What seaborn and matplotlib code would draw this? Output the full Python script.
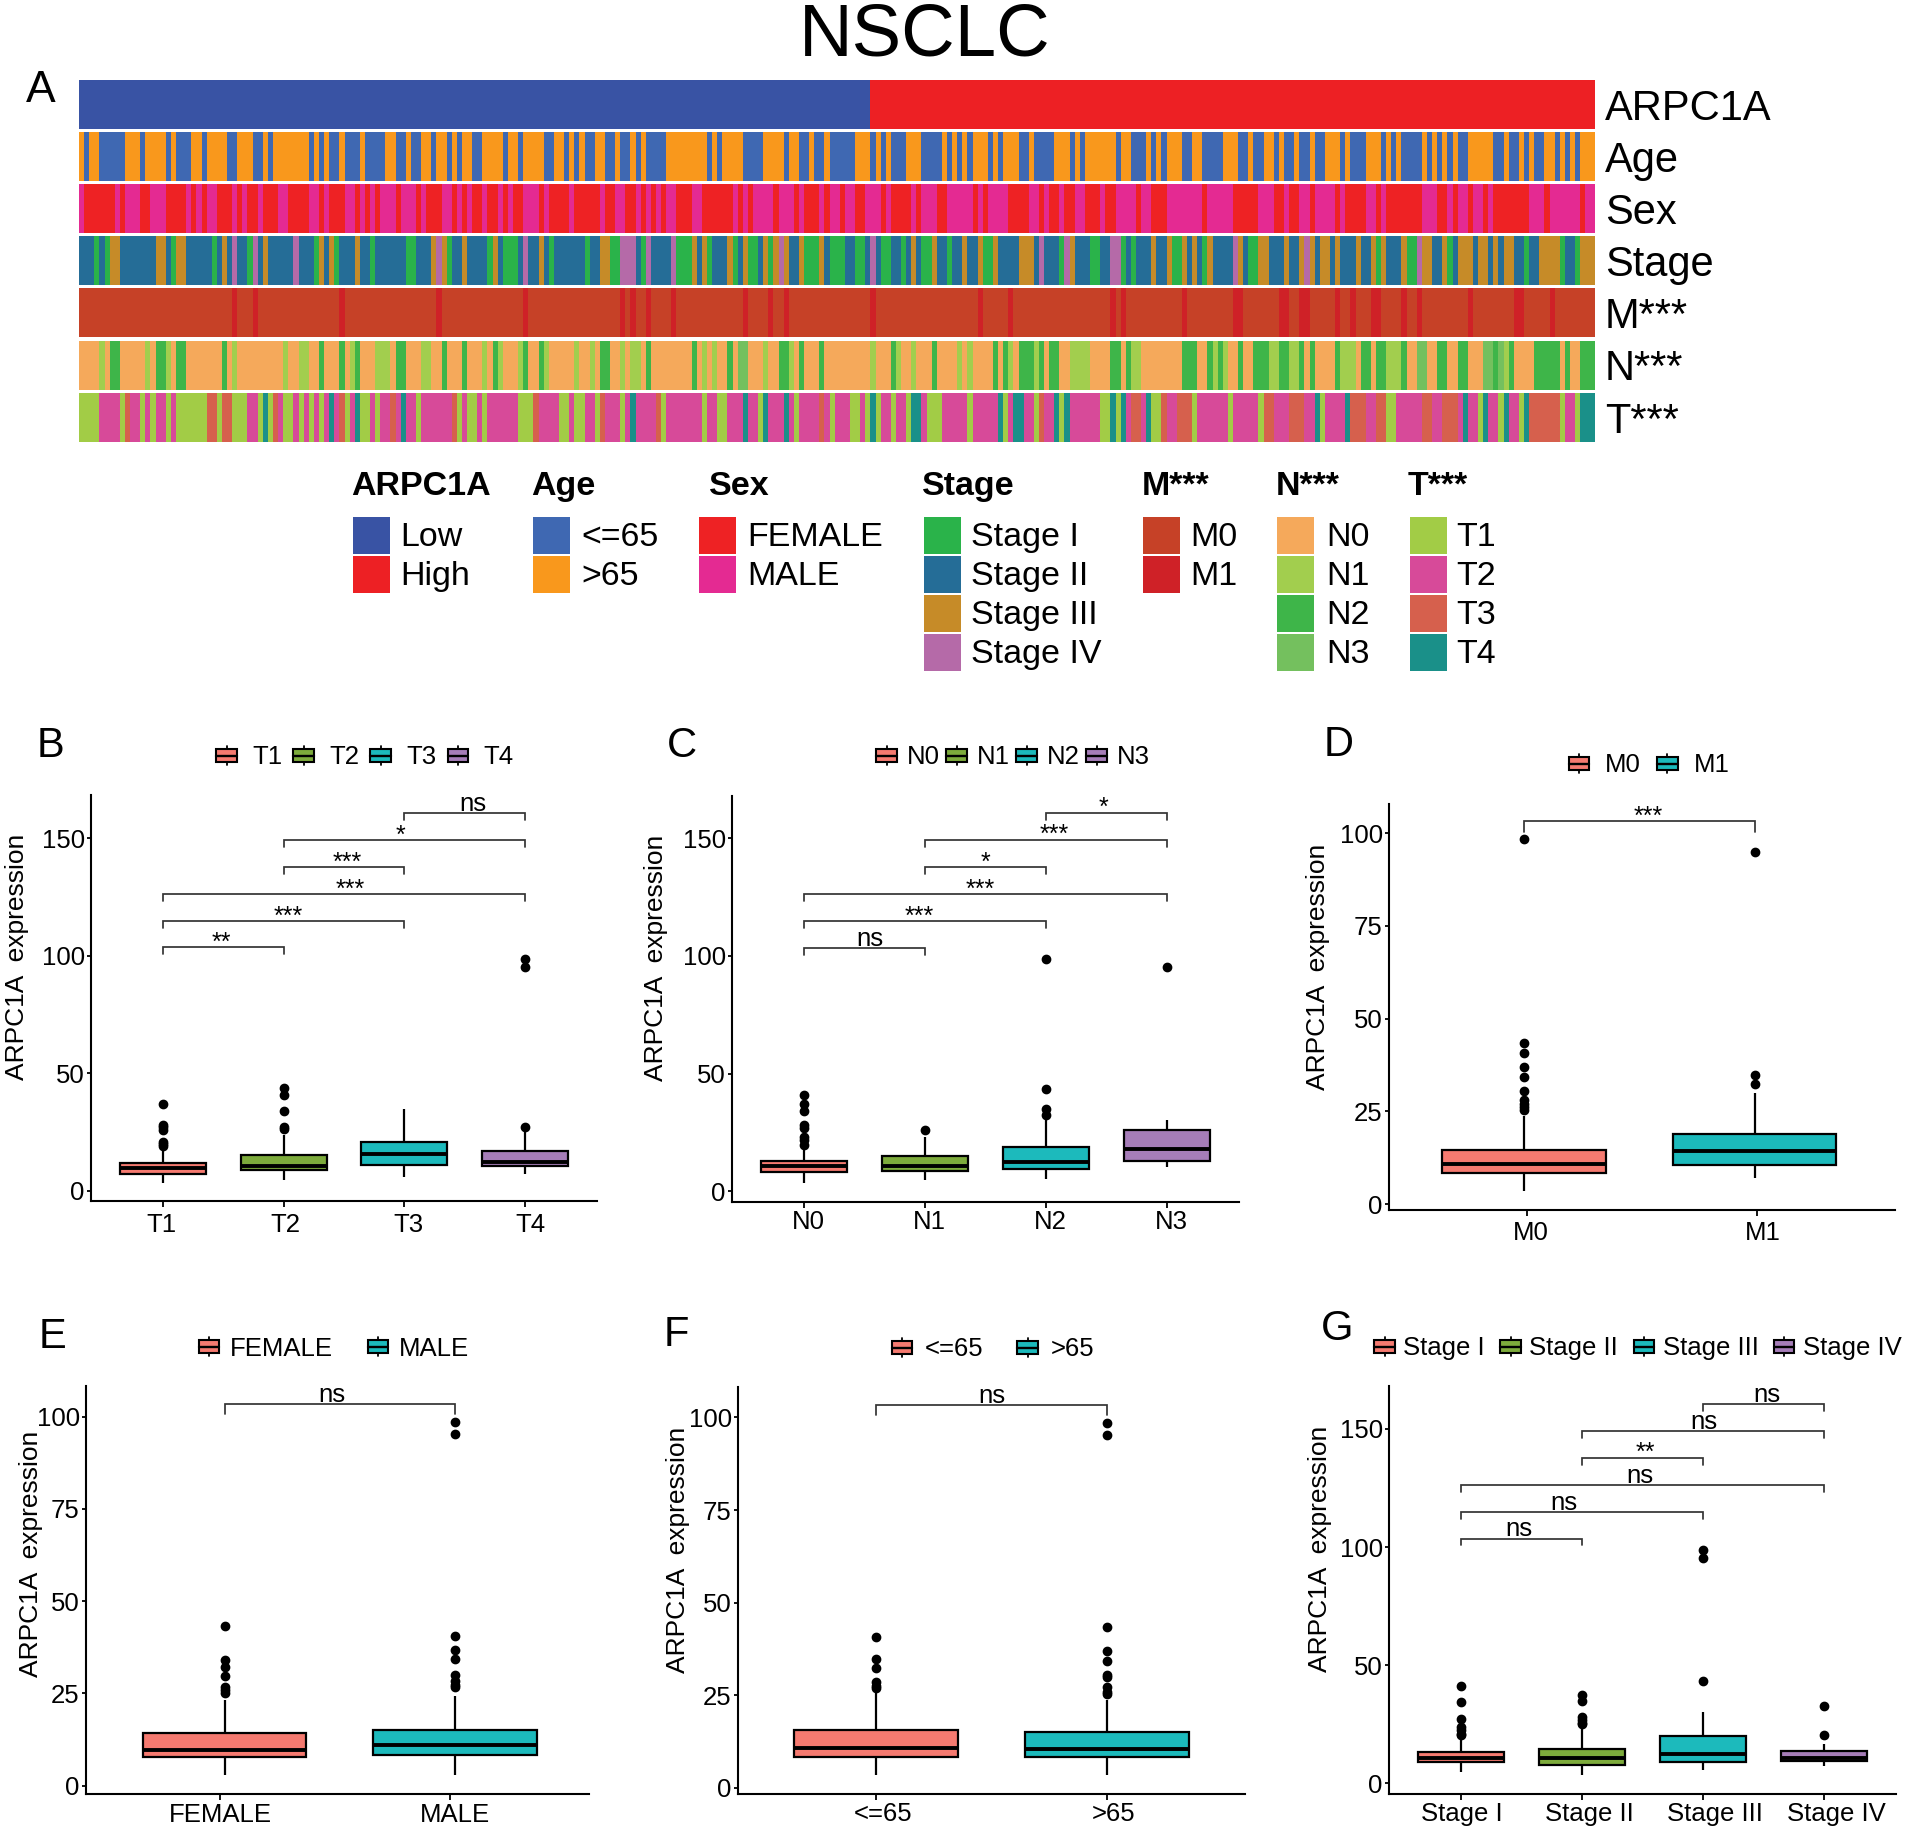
import numpy as np
import pandas as pd
import matplotlib
matplotlib.use('Agg')
import matplotlib.pyplot as plt
import seaborn as sns
from matplotlib.colors import ListedColormap
from matplotlib.legend_handler import HandlerBase
from matplotlib.lines import Line2D
from matplotlib.patches import Rectangle
from matplotlib.transforms import ScaledTranslation

W, H = 1905, 1827
N_SAMPLES = 297

# ---- annotation tracks: sample runs ----
n_low = 155
age_runs = [1,1,2,5,3,1,4,1,1,3,2,1,4,2,3,2,1,1,7,1,1,1,1,2,1,3,1,4,2,2,1,2,2,1,2,1,1,1,2,2,4,1,2,1,4,2,2,1,1,1,1,2,2,2,1,2,1,1,1,4,8,1,1,1,4,4,4,1,2,2,1,2,1,5,
            3,1,1,1,1,3,3,4,1,1,1,1,1,1,3,1,1,1,3,2,1,4,3,1,1,1,6,1,2,3,1,1,1,1,3,2,2,4,3,2,1,2,2,1,1,2,1,2,1,2,3,1,1,3,3,1,1,1,1,4,1,1,1,1,1,1,1,2,5,2,1,2,1,1,1,2,2,1,1,1,1,1,3]
sex_runs = [1,6,1,1,3,2,3,4,1,1,1,1,2,3,1,1,1,2,1,3,2,4,2,1,1,3,2,1,1,1,1,1,3,1,3,1,1,3,2,1,1,1,1,2,1,2,1,1,1,2,3,1,1,4,1,5,1,2,2,2,1,1,1,1,1,1,2,3,2,6,1,1,1,1,4,1,3,1,1,3,1,1,2,1,2,
            2,3,1,1,4,1,1,3,2,5,1,1,1,4,4,2,1,1,2,1,2,2,3,1,2,4,1,2,3,7,1,5,5,3,2,1,2,2,1,4,1,1,4,2,1,1,7,3,2,1,1,2,1,2,1,1,7,3,1,6,1,2]
stage_runs = ("B3 A1 B1 A1 C2 B7 C2 B1 A1 C2 B5 A1 B1 C1 B1 D1 B2 A1 D1 B1 C1 B5 D1 B3 A1 C1 B1 C1 A1 B3 C1 B2 A1 B6 A2 B3 C1 D1 C1 A1 B2 C1 B4 A1 C1 B1 A3 B1 D1 B2 C1 B1 A1 B6 A1 B2 C2 A2 D3 B1 A1 D1 B4 D1 A3 C1 B1 C1 A1 B3 C1 A1 B1 C1 A2 B1 C1 A1 C1 D1 C1 B2 C1 A3 C1 B1 A3 B2 A1 "
              "A1 B1 D1 B1 A2 B2 A1 B1 C1 B1 A2 C1 B2 A1 B2 C1 B2 C1 A2 C1 B4 C3 B1 D1 B3 A1 D1 C1 B3 A2 B2 D2 A1 B1 A1 B3 C1 B2 C1 A2 C1 B1 C1 B1 A1 C1 B4 D1 C1 B1 A2 C2 B3 C1 B2 C1 D1 C1 B1 C2 B1 C1 B3 C1 B2 C1 A1 C1 B3 C1 A2 D1 C2 B2 C1 A1 B1 C3 B1 C2 B1 C1 B1 C2 B2 A1 B2 C4 A1 B2 A1 C3")
m1_samples = [30, 34, 51, 70, 87, 106, 108, 111, 116, 130, 135, 138, 155, 176, 182, 202, 204, 216, 226, 227, 235, 236, 239, 240, 246, 249, 253, 254, 259, 262, 272, 281, 282, 288]
n_runs = ("A4 B1 A1 C2 A5 B1 A1 C2 B1 A1 C2 A7 C1 A1 B1 A9 B1 A2 B2 A2 C1 A3 C1 A1 B1 C1 A3 B3 A1 C2 A3 B2 A2 C1 A3 C1 A3 B1 A1 C1 B1 A3 B1 C1 A2 C1 B1 A5 B1 A2 B1 A1 C2 A2 B1 A1 B2 A1 C1 A8 C1 A1 B1 A1 B1 A2 C1 A1 D2 A3 B1 A2 C2 B1 A1 C1 A3 C1 A7 "
          "A2 B1 A3 C1 B1 A2 B1 A3 C1 A4 B1 A1 B1 A4 C1 A1 C1 B1 A1 C3 B1 C1 A1 C2 A2 B4 A4 C2 A1 C1 B2 A8 C3 A2 C1 B1 C1 B1 A2 C1 A2 C3 B2 C2 B2 C1 A1 C1 A4 C1 B3 A1 C2 A1 C2 B3 C1 A2 D2 A2 C2 A2 C2 A3 D2 C1 D1 B1 C1 A3 A1 C1 C4 A1 C1 A2 C3")
t_runs = ("A4 B4 A1 C1 B2 A1 B1 A1 B2 A1 B1 A6 C2 A1 C2 A3 B2 A1 D1 A1 C1 B1 A2 B1 A1 B1 A1 B1 A1 B1 D1 B1 C1 A1 B1 D1 A2 B1 A1 B2 C1 B1 D1 B2 A1 B6 C1 A1 B1 A2 B1 A1 B6 A3 C1 B4 A2 B1 A2 B2 A1 C1 B3 A1 B1 D1 B4 C1 A1 B7 A1 B2 A2 B3 D1 B2 A1 D1 B3 D1 B1 A1 B4 C1 B1 A1 B3 A2 "
          "B1 A1 D1 A1 B2 A1 B2 A1 D2 B1 A3 B5 A1 B5 D1 A1 B1 D2 B2 A1 C1 B2 D1 A1 D1 B3 B3 A2 D1 A1 D1 B1 C2 B1 D1 A2 C1 B2 C3 A1 B6 A1 B5 A1 C2 B3 C3 B2 D1 A1 B4 D1 C3 B2 C2 A2 B5 C2 B2 C3 B1 D1 B2 A1 D1 B2 A1 D1 B2 A1 D1 C6 A1 B2 A1 D2")

arpc1a_labels = ['Low', 'High']
age_labels = ['<=65', '>65']
sex_labels = ['FEMALE', 'MALE']
stage_labels = ['Stage I', 'Stage II', 'Stage III', 'Stage IV']
m_labels = ['M0', 'M1']
n_labels = ['N0', 'N1', 'N2', 'N3']
t_labels = ['T1', 'T2', 'T3', 'T4']

arpc1a_colors = ['#3953A4', '#ED2024']
age_colors = ['#3F68B2', '#F9981C']
sex_colors = ['#EE2224', '#E42A92']
stage_colors = ['#2AB34A', '#256D97', '#C68B28', '#B56AA8']
m_colors = ['#C64127', '#CF2127']
n_colors = ['#F5A95B', '#A2CE4E', '#3EB549', '#74C05E']
t_colors = ['#A2CC46', '#D74A99', '#D6604D', '#1A9089']

# ---- box plot readings ----
t_low = [3.3, 4.7, 5.8, 7.2]
t_q1 = [7.2, 8.9, 11.1, 10.5]
t_med = [9.6, 10.8, 15.8, 12.5]
t_q3 = [11.8, 15.1, 21.0, 16.8]
t_high = [17.0, 23.7, 34.7, 25.6]
t_out = [[37, 28, 27, 26, 21, 20, 19], [43.6, 41, 34.2, 27, 26.3], [], [27.3, 95.3, 98.7]]
t_sig = [(0, 1, 103.5, '**', 0.485), (0, 2, 114.8, '***', 1.04), (0, 3, 126.2, '***', 1.55),
         (1, 2, 137.7, '***', 1.53), (1, 3, 149.2, '*', 1.97), (2, 3, 160.7, 'ns', 2.57)]

n_low_w = [3.3, 4.6, 5.3, 10.2]
n_q1 = [8.1, 8.5, 9.5, 12.8]
n_med = [10.5, 10.6, 12.5, 18.0]
n_q3 = [12.7, 14.8, 18.6, 26.2]
n_high = [19.4, 23.0, 31.0, 30.2]
n_out = [[41, 37.1, 34.2, 28, 27, 23, 21.6, 19.7], [26], [43.5, 35, 32.4, 98.7], [95.2]]
n_sig = [(0, 1, 103.3, 'ns', 0.54), (0, 2, 114.7, '***', 0.95), (0, 3, 126.2, '***', 1.46),
         (1, 2, 137.8, '*', 1.50), (1, 3, 149.4, '***', 2.07), (2, 3, 160.9, '*', 2.48)]

m_low_w = [3.6, 7.0]
m_q1 = [8.4, 10.6]
m_med = [10.7, 14.4]
m_q3 = [14.6, 18.9]
m_high = [23.7, 30.0]
m_out = [[98.4, 43.4, 40.8, 36.9, 34.3, 30.4, 28, 27, 26.2, 25.3], [34.7, 32.5, 95]]
m_sig = [(0, 1, 103.2, '***', 0.54)]

sex_low_w = [2.9, 2.9]
sex_q1 = [7.75, 8.3]
sex_med = [9.75, 11.1]
sex_q3 = [14.3, 15.1]
sex_high = [23.2, 24.4]
sex_out = [[43.2, 34.1, 32.2, 29.6, 26.7, 26, 25], [98.6, 95.2, 40.6, 36.7, 34.4, 30.1, 28.3, 27.3, 26.7]]
sex_sig = [(0, 1, 103.5, 'ns', 0.467)]

age_low_w = [3.4, 3.4]
age_q1 = [8.4, 8.3]
age_med = [10.9, 10.5]
age_q3 = [15.7, 15.1]
age_high = [25.8, 23.8]
age_out = [[40.8, 34.8, 32.5, 28.5, 27.6, 26.9], [98.6, 95.2, 43.5, 37, 34.3, 30.6, 30, 27.2, 26, 25.4]]
age_sig = [(0, 1, 103.4, 'ns', 0.50)]

stage_low_w = [4.7, 3.6, 5.4, 7.1]
stage_q1 = [8.8, 7.8, 8.8, 9.4]
stage_med = [10.5, 10.8, 12.5, 10.8]
stage_q3 = [13.4, 14.7, 19.8, 13.7]
stage_high = [19.7, 24.0, 30.3, 16.4]
stage_out = [[41, 34.5, 27, 23.6, 22.5, 21, 20.5], [37.2, 34.9, 28.2, 26.8, 25.6, 25.2], [43.4, 95.3, 98.7], [32.6, 20.3]]
stage_sig = [(0, 1, 103.6, 'ns', 0.48), (0, 2, 114.8, 'ns', 0.85), (0, 3, 126.4, 'ns', 1.476),
             (1, 2, 137.8, '**', 1.52), (1, 3, 149.1, 'ns', 2.01), (2, 3, 160.5, 'ns', 2.53)]

box_four = ['#F57A70', '#7DAB3C', '#1CBABC', '#A67DB8']
box_two = ['#F57A70', '#1CBABC']

sns.set_style('ticks')
plt.rcParams['font.family'] = ['Liberation Sans', 'DejaVu Sans']
plt.rcParams['text.color'] = 'black'
plt.rcParams['axes.labelcolor'] = 'black'
plt.rcParams['xtick.color'] = 'black'
plt.rcParams['ytick.color'] = 'black'
plt.rcParams['axes.edgecolor'] = 'black'


def alternate(runs, first):
    # binary track: runs switch category each time
    codes = np.repeat([(first + i) % 2 for i in range(len(runs))], runs)
    return fit(codes)


def decode(text):
    codes = [ord(tok[0]) - 65 for tok in text.split()]
    runs = [int(tok[1:]) for tok in text.split()]
    return fit(np.repeat(codes, runs))


def fit(codes):
    if len(codes) < N_SAMPLES:
        codes = np.append(codes, [codes[-1]] * (N_SAMPLES - len(codes)))
    return codes[:N_SAMPLES]


def px_axes(fig, left, top, right, bottom):
    return fig.add_axes([left / W, 1 - bottom / H, (right - left) / W, (bottom - top) / H])


def sample_values(low, q1, med, q3, high, out):
    # a group of readings whose quartiles land on the values
    return [low] + [q1] * 40 + [med] * 40 + [q3] * 40 + [high] + list(out)


class BoxKey(HandlerBase):
    # ggplot style legend key: small box, median line, whisker stubs
    def create_artists(self, legend, orig, xd, yd, w, h, fontsize, trans):
        cx, cy = -xd + w / 2, -yd + h / 2
        box_h = h * 0.66
        box = Rectangle((-xd, cy - box_h / 2), w, box_h, facecolor=orig.get_facecolor(),
                        edgecolor='black', linewidth=1.5, transform=trans)
        med = Line2D([-xd, -xd + w], [cy, cy], color='black', linewidth=1.7, transform=trans)
        up = Line2D([cx, cx], [cy + box_h / 2, -yd + h], color='black', linewidth=1.3, transform=trans)
        down = Line2D([cx, cx], [-yd, cy - box_h / 2], color='black', linewidth=1.3, transform=trans)
        return [up, down, box, med]


def draw_panel(fig, geom, groups, low, q1, med, q3, high, out, sig, palette, yticks):
    ax = px_axes(fig, *geom['box'])
    rows = []
    for i, g in enumerate(groups):
        for v in sample_values(low[i], q1[i], med[i], q3[i], high[i], out[i]):
            rows.append((g, v))
    df = pd.DataFrame(rows, columns=['group', 'value'])
    sns.boxplot(data=df, x='group', y='value', hue='group', order=groups, hue_order=groups,
                palette=palette, saturation=1, width=0.71, linewidth=1.6, linecolor='black',
                fliersize=6, showcaps=False, legend=True, ax=ax,
                medianprops={'linewidth': 2.8},
                flierprops={'marker': 'o', 'markerfacecolor': 'black', 'markeredgecolor': 'black'})
    handles, labels = ax.get_legend_handles_labels()
    ax.get_legend().remove()
    ax.legend(handles, labels, handler_map={type(handles[0]): BoxKey()}, frameon=False,
              loc='center', bbox_to_anchor=(geom['legend'][0] / W, 1 - geom['legend'][1] / H),
              bbox_transform=fig.transFigure, ncol=len(groups), fontsize=18.5, borderpad=0,
              borderaxespad=0, handlelength=0.8, handleheight=0.8,
              handletextpad=geom['legend'][2], columnspacing=geom['legend'][3])

    for a, b, y, mark, xt in sig:
        tip = y - 2.9 * (geom['ylim'][1] / 168 if geom['ylim'][1] > 120 else 0.95)
        ax.plot([a, a, b, b], [tip, y, y, tip], color='#333333', lw=1.25, solid_joinstyle='miter')
        if mark == 'ns':
            ax.annotate(mark, (xt, y), xytext=(0, 1.5), textcoords='offset points',
                        ha='center', va='baseline', fontsize=18.5)
        else:
            ax.annotate(mark, (xt, y), xytext=(0, -1.8), textcoords='offset points',
                        ha='center', va='baseline', fontsize=18)

    ax.set_xlim(*geom['xlim'])
    ax.set_ylim(*geom['ylim'])
    ax.set_yticks(yticks)
    ax.set_xticks(np.arange(len(groups)) + geom.get('tick_shift', 0))
    ax.set_xticklabels(groups)
    ax.set_xlabel('')
    ax.set_ylabel('')
    ax.tick_params(axis='x', labelsize=18.5, length=4.5, width=1.3, pad=geom.get('xpad', 4.5))
    ax.tick_params(axis='y', labelsize=18.5, length=3, width=1.3, pad=1.5)
    for lbl, dx in zip(ax.get_xticklabels(), geom['label_shift']):
        lbl.set_transform(lbl.get_transform() + ScaledTranslation(dx / 100, 0, fig.dpi_scale_trans))
    sns.despine(ax=ax)
    for side in ['left', 'bottom']:
        ax.spines[side].set_linewidth(1.5)
    fig.text(geom['ylabel'][0] / W, 1 - geom['ylabel'][1] / H, 'ARPC1A  expression', rotation=90,
             ha='center', va='center', fontsize=19)
    fig.text(geom['tag'][0] / W, 1 - geom['tag'][1] / H, geom['name'], ha='center', va='center', fontsize=30)
    return ax


fig = plt.figure(figsize=(W / 100, H / 100), dpi=100, facecolor='white')

# ---- panel A ----
m_codes = np.zeros(N_SAMPLES, dtype=int)
m_codes[m1_samples] = 1
tracks = [
    ('ARPC1A', np.repeat([0, 1], [n_low, N_SAMPLES - n_low]), arpc1a_labels, arpc1a_colors),
    ('Age', alternate(age_runs, 1), age_labels, age_colors),
    ('Sex', alternate(sex_runs, 1), sex_labels, sex_colors),
    ('Stage', decode(stage_runs), stage_labels, stage_colors),
    ('M***', m_codes, m_labels, m_colors),
    ('N***', decode(n_runs), n_labels, n_colors),
    ('T***', decode(t_runs), t_labels, t_colors),
]
track_left, track_right = 79, 1595.5
track_top, track_h, track_pitch = 80, 49, 52.1
legend_key_x = [353, 533, 699, 924, 1143, 1277, 1410]
legend_text_x = [400, 581, 747, 971, 1190, 1326, 1456]
legend_title_x = [351, 531, 708.5, 921.5, 1141.5, 1276, 1408]

for i, (name, codes, labels, colors) in enumerate(tracks):
    top = track_top + i * track_pitch
    ax = px_axes(fig, track_left, top, track_right, top + track_h)
    sns.heatmap(codes[np.newaxis, :], ax=ax, cmap=ListedColormap(colors), vmin=-0.5,
                vmax=len(colors) - 0.5, cbar=False, xticklabels=False, yticklabels=False)
    fig.text(1605 / W, 1 - (top + track_h / 2 + 4.5) / H, name, fontsize=30, ha='left', va='center')
    fig.text(legend_title_x[i] / W, 1 - 486.5 / H, name, fontsize=24.5, fontweight='bold', ha='left', va='center')
    for j, (lab, col) in enumerate(zip(labels, colors)):
        y = 517 + j * 39
        fig.add_artist(Rectangle((legend_key_x[i] / W, 1 - (y + 36.5) / H), 36.7 / W, 36.5 / H,
                                 facecolor=col, edgecolor='none', transform=fig.transFigure))
        fig.text(legend_text_x[i] / W, 1 - (y + 20.5) / H, lab, fontsize=24.5, ha='left', va='center')

fig.text(925 / W, 1 - 36 / H, 'NSCLC', fontsize=53.5, ha='center', va='center')
fig.text(41 / W, 1 - 91 / H, 'A', fontsize=32, ha='center', va='center')

# ---- panels B-G ----
draw_panel(fig, dict(name='B', box=(91, 795, 597, 1201), xlim=(-0.597, 3.597), ylim=(-4.25, 168.3),
                     legend=(365, 757.5, 0.6, 0.43), ylabel=(17.5, 957), tag=(50, 746),
                     xpad=4.5, label_shift=[-2, 2, 4, 5]),
           t_labels, t_low, t_q1, t_med, t_q3, t_high, t_out, t_sig, box_four, [0, 50, 100, 150])
draw_panel(fig, dict(name='C', box=(732, 796, 1239, 1202), xlim=(-0.597, 3.597), ylim=(-4.6, 168),
                     legend=(1013, 757.5, 0.38, 0.26), ylabel=(655.5, 958), tag=(682, 746),
                     xpad=1.5, label_shift=[4, 4, 4, 5]),
           n_labels, n_low_w, n_q1, n_med, n_q3, n_high, n_out, n_sig, box_four, [0, 50, 100, 150])
draw_panel(fig, dict(name='D', box=(1389, 803.5, 1895, 1209.5), xlim=(-0.587, 1.609), ylim=(-1.46, 108),
                     legend=(1649, 765.5, 0.62, 0.62), ylabel=(1318.5, 967), tag=(1339, 745),
                     tick_shift=0.01, xpad=4, label_shift=[4, 6]),
           m_labels, m_low_w, m_q1, m_med, m_q3, m_high, m_out, m_sig, box_two, [0, 25, 50, 75, 100])
draw_panel(fig, dict(name='E', box=(86, 1386, 589, 1794), xlim=(-0.60, 1.579), ylim=(-2.28, 108.3),
                     legend=(334, 1348.5, 0.43, 1.33), ylabel=(31.5, 1554), tag=(53, 1337),
                     tick_shift=-0.021, xpad=2, label_shift=[1, 4]),
           sex_labels, sex_low_w, sex_q1, sex_med, sex_q3, sex_high, sex_out, sex_sig, box_two, [0, 25, 50, 75, 100])
draw_panel(fig, dict(name='F', box=(738, 1386.7, 1245, 1794), xlim=(-0.597, 1.597), ylim=(-1.63, 108.3),
                     legend=(993, 1349.5, 0.5, 1.32), ylabel=(677.5, 1550), tag=(676, 1335),
                     xpad=1.5, label_shift=[7, 7]),
           age_labels, age_low_w, age_q1, age_med, age_q3, age_high, age_out, age_sig, box_two, [0, 25, 50, 75, 100])
draw_panel(fig, dict(name='G', box=(1389, 1386, 1896, 1794), xlim=(-0.596, 3.596), ylim=(-4.56, 168.2),
                     legend=(1638, 1348.5, 0.33, 0.6), ylabel=(1320.5, 1549), tag=(1337, 1329),
                     xpad=1.5, label_shift=[1, 7, 12, 12]),
           stage_labels, stage_low_w, stage_q1, stage_med, stage_q3, stage_high, stage_out, stage_sig,
           box_four, [0, 50, 100, 150])

fig.savefig('out.png', dpi=100, facecolor='white')
